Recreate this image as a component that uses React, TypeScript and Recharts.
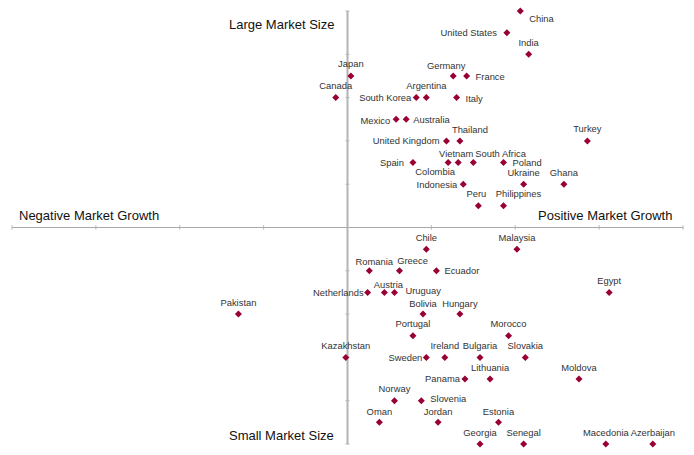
import { ScatterChart, Scatter, XAxis, YAxis, ReferenceLine } from 'recharts';

// Markets: growth (x, %) against relative market size (y, ranked score)
const countries = [
  'China', 'United States', 'India', 'Japan', 'Germany', 'France',
  'Canada', 'South Korea', 'Argentina', 'Italy', 'Mexico', 'Australia',
  'United Kingdom', 'Thailand', 'Turkey',
  'Spain', 'Colombia', 'Vietnam', 'South Africa', 'Poland',
  'Indonesia', 'Ukraine', 'Ghana', 'Peru', 'Philippines',
  'Chile', 'Malaysia', 'Romania', 'Greece', 'Ecuador',
  'Netherlands', 'Austria', 'Uruguay', 'Egypt',
  'Pakistan', 'Bolivia', 'Hungary', 'Portugal', 'Morocco',
  'Kazakhstan', 'Sweden', 'Ireland', 'Bulgaria', 'Slovakia',
  'Panama', 'Lithuania', 'Moldova', 'Norway', 'Slovenia',
  'Oman', 'Jordan', 'Estonia',
  'Georgia', 'Senegal', 'Macedonia', 'Azerbaijan',
];

const marketGrowth = [
  10.3, 9.5, 10.8, 0.2, 6.3, 7.1,
  -0.7, 4.1, 4.7, 6.5, 2.9, 3.5,
  5.9, 6.7, 14.3,
  3.9, 6.0, 6.6, 7.5, 9.3,
  6.9, 10.5, 12.9, 7.8, 9.3,
  4.7, 10.1, 1.3, 3.1, 5.3,
  1.2, 2.2, 2.8, 15.6,
  -6.5, 4.5, 6.7, 3.9, 9.6,
  -0.1, 4.7, 5.8, 7.9, 10.6,
  7.0, 8.5, 13.8, 2.8, 4.4,
  1.9, 5.4, 9.0,
  7.9, 10.5, 15.4, 18.2,
];

const marketSize = [
  5, 4.5, 4, 3.5, 3.5, 3.5,
  3, 3, 3, 3, 2.5, 2.5,
  2, 2, 2,
  1.5, 1.5, 1.5, 1.5, 1.5,
  1, 1, 1, 0.5, 0.5,
  -0.5, -0.5, -1, -1, -1,
  -1.5, -1.5, -1.5, -1.5,
  -2, -2, -2, -2.5, -2.5,
  -3, -3, -3, -3, -3,
  -3.5, -3.5, -3.5, -4, -4,
  -4.5, -4.5, -4.5,
  -5, -5, -5, -5,
];

const growthTicks = [-20, -15, -10, -5, 5, 10, 15, 20];
const sizeTicks = [-5, -4, -3, -2, -1, 1, 2, 3, 4, 5];

const points = countries.map((name, i) => ({ name, growth: marketGrowth[i], size: marketSize[i] }));

// label offset from the marker centre: dx, dy, text-anchor
type Placement = [number, number, 'start' | 'middle' | 'end'];
const above: Placement = [0, -12, 'middle'];
const labelPlacement: Record<string, Placement> = {
  'China': [9, 7, 'start'],
  'United States': [-10, 0, 'end'],
  'Germany': [-7, -10, 'middle'],
  'France': [9, 1, 'start'],
  'South Korea': [-5, 0, 'end'],
  'Italy': [9, 1, 'start'],
  'Mexico': [-6, 1, 'end'],
  'Australia': [7, 0, 'start'],
  'United Kingdom': [-7, 0, 'end'],
  'Thailand': [10, -11, 'middle'],
  'Spain': [-9, 0, 'end'],
  'Colombia': [-13, 9, 'middle'],
  'Vietnam': [-2, -9, 'middle'],
  'South Africa': [2, -9, 'start'],
  'Poland': [9, 0, 'start'],
  'Indonesia': [-6, 0, 'end'],
  'Peru': [-2, -12, 'middle'],
  'Philippines': [15, -12, 'middle'],
  'Romania': [5, -9, 'middle'],
  'Greece': [13, -10, 'middle'],
  'Ecuador': [8, 0, 'start'],
  'Netherlands': [-4, 0, 'end'],
  'Austria': [4, -8, 'middle'],
  'Uruguay': [11, -1.5, 'start'],
  'Bolivia': [0, -11, 'middle'],
  'Hungary': [0, -11, 'middle'],
  'Sweden': [-4, 0, 'end'],
  'Panama': [-5, -1, 'end'],
  'Slovenia': [9, -2, 'start'],
  'Oman': [0, -11, 'middle'],
  'Jordan': [0, -11, 'middle'],
  'Estonia': [0, -11, 'middle'],
};

const FONT = '"Liberation Sans", Arial, sans-serif';
const AXIS = '#b4b4b4';

function CountryMarker(props: any) {
  const { cx, cy, payload } = props;
  const [dx, dy, anchor] = labelPlacement[payload.name] ?? above;
  const r = 3.5;
  return (
    <g>
      <polygon
        points={`${cx},${cy - r} ${cx + r},${cy} ${cx},${cy + r} ${cx - r},${cy}`}
        fill="#990033"
      />
      <text
        x={cx + dx}
        y={cy + dy}
        textAnchor={anchor}
        dominantBaseline="central"
        fontSize={9.4}
        fontFamily={FONT}
        fill="#333"
      >
        {payload.name}
      </text>
    </g>
  );
}

const titleStyle = {
  position: 'absolute' as const,
  fontFamily: FONT,
  fontSize: 13,
  lineHeight: '15px',
  color: '#111',
  whiteSpace: 'nowrap' as const,
};

export default function App() {
  return (
    <div style={{ position: 'absolute', left: 0, top: 0, width: 694, height: 455, background: '#fff' }}>
      <ScatterChart width={694} height={455} margin={{ top: 11, right: 11, bottom: 11, left: 12 }}>
        <XAxis type="number" dataKey="growth" domain={[-20, 20]} hide />
        <YAxis type="number" dataKey="size" domain={[-5, 5]} hide />
        <ReferenceLine y={0} stroke="#a8a8a8" strokeWidth={1} />
        <ReferenceLine x={0} stroke={AXIS} strokeWidth={2} />
        {growthTicks.map(t => (
          <ReferenceLine
            key={'gx' + t}
            segment={[{ x: t, y: -0.05 }, { x: t, y: 0.05 }]}
            stroke={AXIS}
          />
        ))}
        {sizeTicks.map(t => (
          <ReferenceLine
            key={'sy' + t}
            segment={[{ x: -0.12, y: t }, { x: 0.12, y: t }]}
            stroke={AXIS}
          />
        ))}
        <Scatter data={points} shape={<CountryMarker />} isAnimationActive={false} />
      </ScatterChart>

      <span style={{ ...titleStyle, left: 229, top: 17 }}>Large Market Size</span>
      <span style={{ ...titleStyle, left: 229, top: 428 }}>Small Market Size</span>
      <span style={{ ...titleStyle, left: 19, top: 208 }}>Negative Market Growth</span>
      <span style={{ ...titleStyle, left: 538, top: 208 }}>Positive Market Growth</span>
    </div>
  );
}
